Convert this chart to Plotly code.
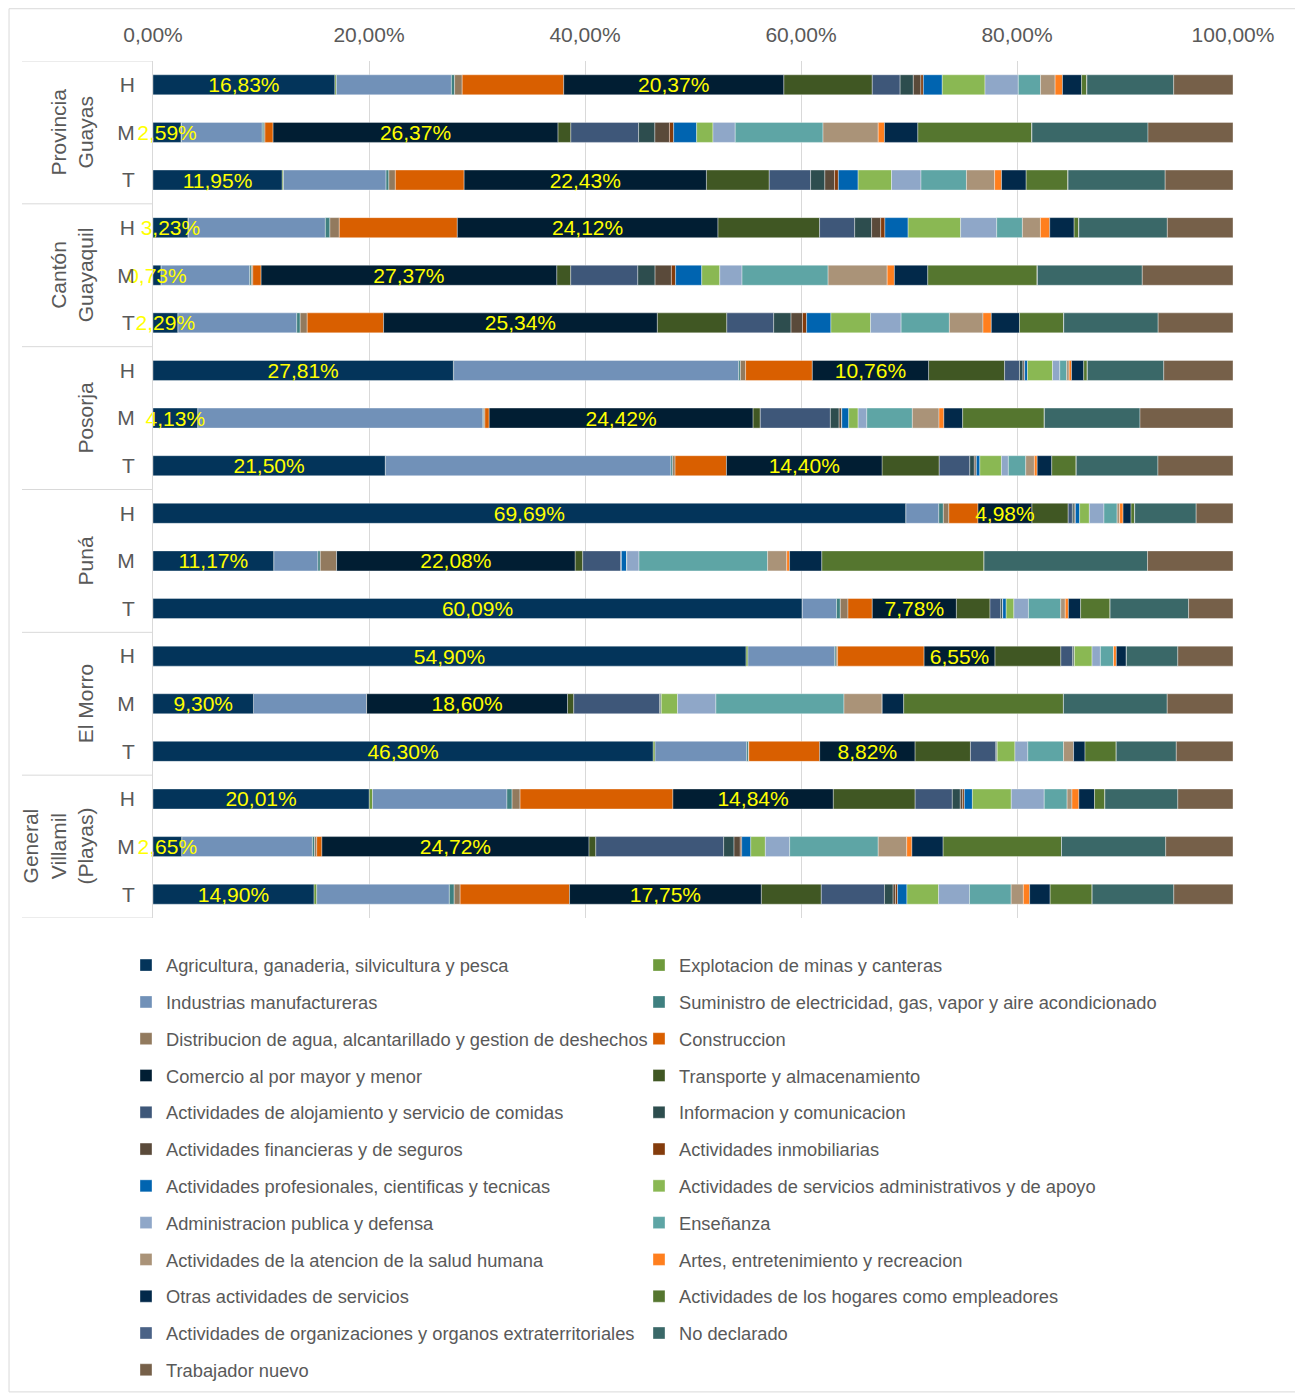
import plotly.graph_objects as go

# ---------------- data ----------------
sectors = [
    "Agricultura, ganaderia, silvicultura y pesca",
    "Explotacion de minas y canteras",
    "Industrias manufactureras",
    "Suministro de electricidad, gas, vapor y aire acondicionado",
    "Distribucion de agua, alcantarillado y gestion de deshechos",
    "Construccion",
    "Comercio al por mayor y menor",
    "Transporte y almacenamiento",
    "Actividades de alojamiento y servicio de comidas",
    "Informacion y comunicacion",
    "Actividades financieras y de seguros",
    "Actividades inmobiliarias",
    "Actividades profesionales, cientificas y tecnicas",
    "Actividades de servicios administrativos y de apoyo",
    "Administracion publica y defensa",
    "Enseñanza",
    "Actividades de la atencion de la salud humana",
    "Artes, entretenimiento y recreacion",
    "Otras actividades de servicios",
    "Actividades de los hogares como empleadores",
    "Actividades de organizaciones y organos extraterritoriales",
    "No declarado",
    "Trabajador nuevo",
]

colors = [
    "#03345A", "#6E9A3C", "#7191B8", "#3F8080", "#927A5E", "#D95F00",
    "#011E33", "#405723", "#3E5779", "#2D4D4E", "#5A4A3A", "#843C0C",
    "#0064B0", "#8AB853", "#8FA7C8", "#5EA5A5", "#AA9378", "#FF7F1E",
    "#02294A", "#55762F", "#4A6286", "#3A6868", "#766049",
]

groups = ["Provincia<br>Guayas", "Cantón<br>Guayaquil", "Posorja", "Puná",
          "El Morro", "General<br>Villamil<br>(Playas)"]
sexes = ["H", "M", "T"]

# one list per row (values in % for each sector, in sector order)
pg_h = [16.83, 0.15, 10.65, 0.30, 0.70, 9.40, 20.37, 8.20, 2.58, 1.22, 0.70, 0.23, 1.75, 3.96, 3.08, 2.06, 1.35, 0.68, 1.77, 0.48, 0.02, 8.03, 5.49]
pg_m = [2.59, 0.03, 7.50, 0.15, 0.10, 0.75, 26.37, 1.20, 6.27, 1.51, 1.35, 0.39, 2.13, 1.51, 2.06, 8.13, 5.11, 0.58, 3.09, 10.55, 0.02, 10.74, 7.87]
pg_t = [11.95, 0.13, 9.50, 0.26, 0.60, 6.37, 22.43, 5.82, 3.83, 1.32, 0.90, 0.35, 1.83, 3.09, 2.73, 4.21, 2.61, 0.64, 2.28, 3.86, 0.02, 8.99, 6.28]
cg_h = [3.23, 0.03, 12.70, 0.42, 0.87, 10.93, 24.12, 9.42, 3.25, 1.57, 0.84, 0.39, 2.15, 4.86, 3.34, 2.38, 1.67, 0.86, 2.26, 0.42, 0.02, 8.19, 6.08]
cg_m = [0.73, 0.02, 8.20, 0.16, 0.13, 0.77, 27.37, 1.30, 6.21, 1.60, 1.51, 0.39, 2.42, 1.67, 2.06, 7.97, 5.47, 0.67, 3.09, 10.11, 0.05, 9.70, 8.40]
cg_t = [2.29, 0.02, 11.00, 0.32, 0.65, 7.07, 25.34, 6.44, 4.34, 1.61, 1.06, 0.38, 2.25, 3.67, 2.83, 4.47, 3.11, 0.77, 2.61, 4.08, 0.02, 8.74, 6.93]
po_h = [27.81, 0.03, 26.39, 0.16, 0.48, 6.18, 10.76, 7.04, 1.38, 0.32, 0.13, 0.03, 0.26, 2.32, 0.67, 0.64, 0.23, 0.22, 1.13, 0.32, 0.02, 7.07, 6.41]
po_m = [4.13, 0.02, 26.40, 0.08, 0.10, 0.40, 24.42, 0.68, 6.49, 0.81, 0.22, 0.03, 0.64, 0.87, 0.80, 4.22, 2.47, 0.45, 1.74, 7.55, 0.02, 8.85, 8.61]
po_t = [21.50, 0.02, 26.44, 0.16, 0.22, 4.76, 14.40, 5.30, 2.83, 0.42, 0.16, 0.03, 0.32, 2.00, 0.64, 1.61, 0.80, 0.26, 1.35, 2.25, 0.02, 7.56, 6.95]
pu_h = [69.69, 0.02, 3.05, 0.42, 0.51, 2.70, 4.98, 3.37, 0.39, 0.16, 0.10, 0.02, 0.39, 0.90, 1.35, 1.22, 0.23, 0.32, 0.74, 0.32, 0.02, 5.69, 3.41]
pu_m = [11.17, 0.02, 4.08, 0.22, 1.51, 0.00, 22.08, 0.71, 3.54, 0.02, 0.02, 0.00, 0.48, 0.02, 1.13, 11.91, 1.77, 0.26, 2.99, 15.02, 0.00, 15.14, 7.91]
pu_t = [60.09, 0.02, 3.18, 0.35, 0.71, 2.25, 7.78, 3.12, 1.00, 0.16, 0.02, 0.00, 0.32, 0.71, 1.35, 2.99, 0.42, 0.29, 1.13, 2.73, 0.00, 7.27, 4.11]
em_h = [54.90, 0.19, 8.04, 0.13, 0.13, 8.01, 6.55, 6.11, 1.09, 0.16, 0.00, 0.00, 0.00, 1.64, 0.77, 1.22, 0.00, 0.26, 0.93, 0.00, 0.00, 4.76, 5.11]
em_m = [9.30, 0.00, 10.48, 0.00, 0.00, 0.00, 18.60, 0.58, 7.94, 0.16, 0.00, 0.00, 0.00, 1.51, 3.55, 11.86, 3.54, 0.00, 1.99, 14.79, 0.00, 9.61, 6.09]
em_t = [46.30, 0.19, 8.49, 0.16, 0.03, 6.56, 8.82, 5.14, 2.35, 0.13, 0.00, 0.00, 0.00, 1.64, 1.19, 3.31, 0.93, 0.00, 1.06, 2.89, 0.00, 5.56, 5.25]
gv_h = [20.01, 0.32, 12.44, 0.48, 0.74, 14.15, 14.84, 7.59, 3.44, 0.74, 0.22, 0.16, 0.74, 3.60, 3.05, 2.12, 0.45, 0.64, 1.45, 0.96, 0.00, 6.75, 5.11]
gv_m = [2.65, 0.02, 12.09, 0.20, 0.20, 0.48, 24.72, 0.64, 11.84, 0.96, 0.58, 0.13, 0.84, 1.35, 2.25, 8.20, 2.64, 0.48, 2.89, 10.96, 0.00, 9.65, 6.23]
gv_t = [14.90, 0.26, 12.28, 0.45, 0.55, 10.13, 17.75, 5.56, 5.85, 0.80, 0.22, 0.19, 0.87, 2.93, 2.86, 3.86, 1.13, 0.58, 1.90, 3.89, 0.00, 7.56, 5.48]

rows = [pg_h, pg_m, pg_t, cg_h, cg_m, cg_t, po_h, po_m, po_t,
        pu_h, pu_m, pu_t, em_h, em_m, em_t, gv_h, gv_m, gv_t]
labelled_sectors = [0, 6]   # sectors with value labels

# ---------------- figure ----------------
FONT = "Liberation Sans, Arial, sans-serif"
GREY = "#595959"
LINE = "#D9D9D9"

ypos = list(range(len(rows)))
yticktext = [sexes[i % 3] for i in ypos]

# stacked bars drawn with explicit bases so the labelled series can be drawn last (text on top)
order = [i for i in range(len(sectors)) if i not in labelled_sectors] + labelled_sectors

fig = go.Figure()
for i in order:
    name = sectors[i]
    vals = [r[i] for r in rows]
    bases = [sum(r[:i]) for r in rows]
    lab = i in labelled_sectors
    fig.add_trace(go.Bar(
        y=ypos, x=vals, base=bases, orientation="h", name=name,
        width=0.42,
        marker=dict(color=colors[i], line=dict(color="rgba(255,255,255,0.45)", width=0.8)),
        texttemplate="%{x:.2f}%" if lab else None,
        textposition="inside" if lab else "none",
        insidetextanchor="middle", textangle=0, constraintext="none",
        textfont=dict(color="#FFFF00", size=21, family=FONT),
        cliponaxis=False,
        legend="legend" if i % 2 == 0 else "legend2",
        legendgroup=name, legendrank=i + 1,
        hovertemplate=name + ": %{x:.2f}%<extra></extra>",
    ))

shapes = []
for b in [-0.5, 2.5, 5.5, 8.5, 11.5, 14.5, 17.5]:
    shapes.append(dict(type="line", xref="paper", yref="y", x0=-0.1213, x1=0,
                       y0=b, y1=b, line=dict(color=LINE, width=1)))
shapes.append(dict(type="rect", xref="paper", yref="paper",
                   x0=-0.1333, x1=1.062, y0=-0.553, y1=1.061,
                   line=dict(color=LINE, width=1), layer="below"))

annotations = []
for g, name in enumerate(groups):
    annotations.append(dict(text=name, xref="paper", yref="y", x=-0.050, y=3 * g + 1,
                            xanchor="right", yanchor="middle", textangle=-90,
                            showarrow=False, align="center",
                            font=dict(size=21, color=GREY, family=FONT)))

legend_common = dict(orientation="v", traceorder="grouped", tracegroupgap=10,
                     xanchor="left", yanchor="top", bgcolor="rgba(0,0,0,0)",
                     font=dict(size=18.3, color=GREY, family=FONT))

fig.update_layout(
    width=1295, height=1386,
    barmode="overlay",
    separators=",.",
    paper_bgcolor="white", plot_bgcolor="white",
    margin=dict(l=145, r=70, t=53, b=476, autoexpand=False),
    font=dict(family=FONT, color=GREY, size=21),
    uniformtext=dict(minsize=21, mode="show"),
    xaxis=dict(side="top", range=[0, 100], tick0=0, dtick=20, tickformat=".2f",
               ticksuffix="%", showgrid=True, gridcolor=LINE, gridwidth=1,
               zeroline=False, showline=False, ticks="", ticklabelstandoff=14,
               tickfont=dict(size=21, color=GREY, family=FONT)),
    yaxis=dict(range=[17.5, -0.5], tickmode="array", tickvals=ypos, ticktext=yticktext,
               showgrid=False, zeroline=False, showline=True, linecolor=LINE,
               ticks="", ticklabelstandoff=13,
               tickfont=dict(size=21, color=GREY, family=FONT)),
    legend=dict(x=-0.025, y=-0.0335, **legend_common),
    legend2=dict(x=0.450, y=-0.0335, **legend_common),
    shapes=shapes,
    annotations=annotations,
    showlegend=True,
)

fig.write_html("out.html")
